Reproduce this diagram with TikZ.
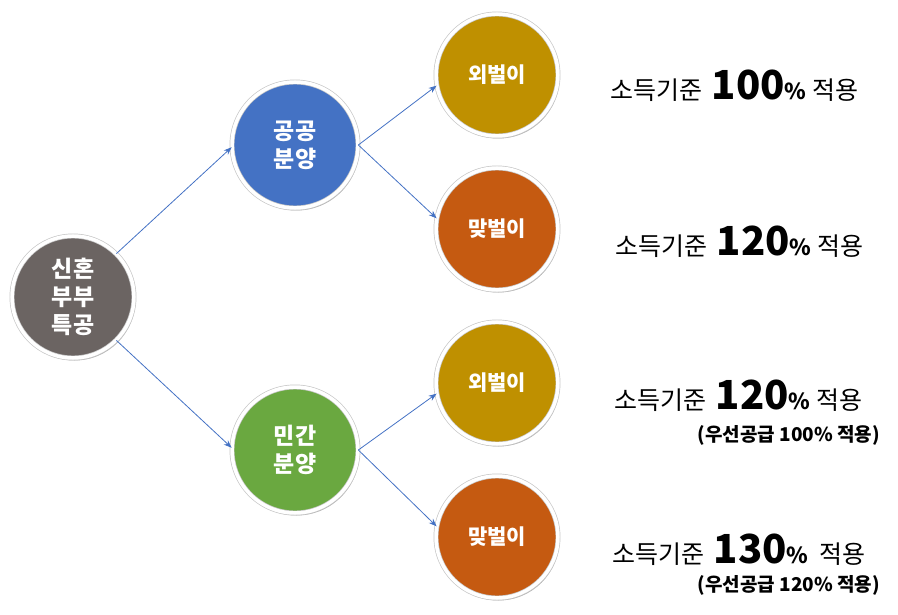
\documentclass[tikz,border=0pt]{standalone}
\usepackage{fontspec}
\setmainfont{Noto Sans CJK KR}
\usetikzlibrary{arrows.meta,shadows}
\definecolor{cgray}{HTML}{6B6462}
\definecolor{cblue}{HTML}{4472C4}
\definecolor{cgreen}{HTML}{6AA840}
\definecolor{cgold}{HTML}{BF9000}
\definecolor{corange}{HTML}{C55A11}
\definecolor{cline}{HTML}{4472C4}
\tikzset{
  ball/.style={circle, draw=black!22, line width=0.7pt, double=white, double distance=3.5pt,
    minimum size=#1,
    text=white, font=\bfseries\fontsize{23}{28}\selectfont, align=center,
    drop shadow={shadow xshift=1.5pt, shadow yshift=-2.5pt, opacity=0.3, fill=black}},
  small/.style={font=\bfseries\fontsize{21}{24}\selectfont},
  link/.style={draw=cline, line width=0.8pt, -{Stealth[length=8pt,width=6pt]}},
  info/.style={anchor=base west, inner sep=0pt, font=\fontsize{25}{28}\selectfont},
  sub/.style={anchor=base east, inner sep=0pt, font=\bfseries\fontsize{19}{22}\selectfont}
}
\newcommand{\bignum}[1]{\hspace{4pt}{\bfseries\fontsize{40}{44}\selectfont #1}{\bfseries\fontsize{22}{24}\selectfont \%}}
\begin{document}
\begin{tikzpicture}[x=1pt,y=-1pt]
\useasboundingbox (0,0) rectangle (898,615);
\node[ball=122pt, fill=cgray] (root) at (73,297) {신혼\\부부\\특공};
\node[ball=126pt, fill=cblue] (pub) at (295,145) {공공\\분양};
\node[ball=126pt, fill=cgreen] (pri) at (295,450) {민간\\분양};
\node[ball=122pt, fill=cgold, small] (p1) at (497,75) {외벌이};
\node[ball=122pt, fill=corange, small] (p2) at (497,229) {맞벌이};
\node[ball=122pt, fill=cgold, small] (q1) at (497,383) {외벌이};
\node[ball=122pt, fill=corange, small] (q2) at (497,537) {맞벌이};
\draw[link] (root.45) -- (pub.182);
\draw[link] (root.-45) -- (pri.178);
\draw[link] (pub.east) -- (p1.190);
\draw[link] (pub.east) -- (p2.170);
\draw[link] (pri.east) -- (q1.190);
\draw[link] (pri.east) -- (q2.170);
\node[info] (t1) at (610,100) {소득기준 \bignum{100} 적용};
\node[info] (t2) at (615,255) {소득기준 \bignum{120} 적용};
\node[info] (t3) at (614,409) {소득기준 \bignum{120} 적용};
\node[sub] (s3) at (880,441) {(우선공급 100\% 적용)};
\node[info] (t4) at (612,563) {소득기준 \bignum{130}\ \ 적용};
\node[sub] (s4) at (880,591) {(우선공급 120\% 적용)};
\end{tikzpicture}
\end{document}
